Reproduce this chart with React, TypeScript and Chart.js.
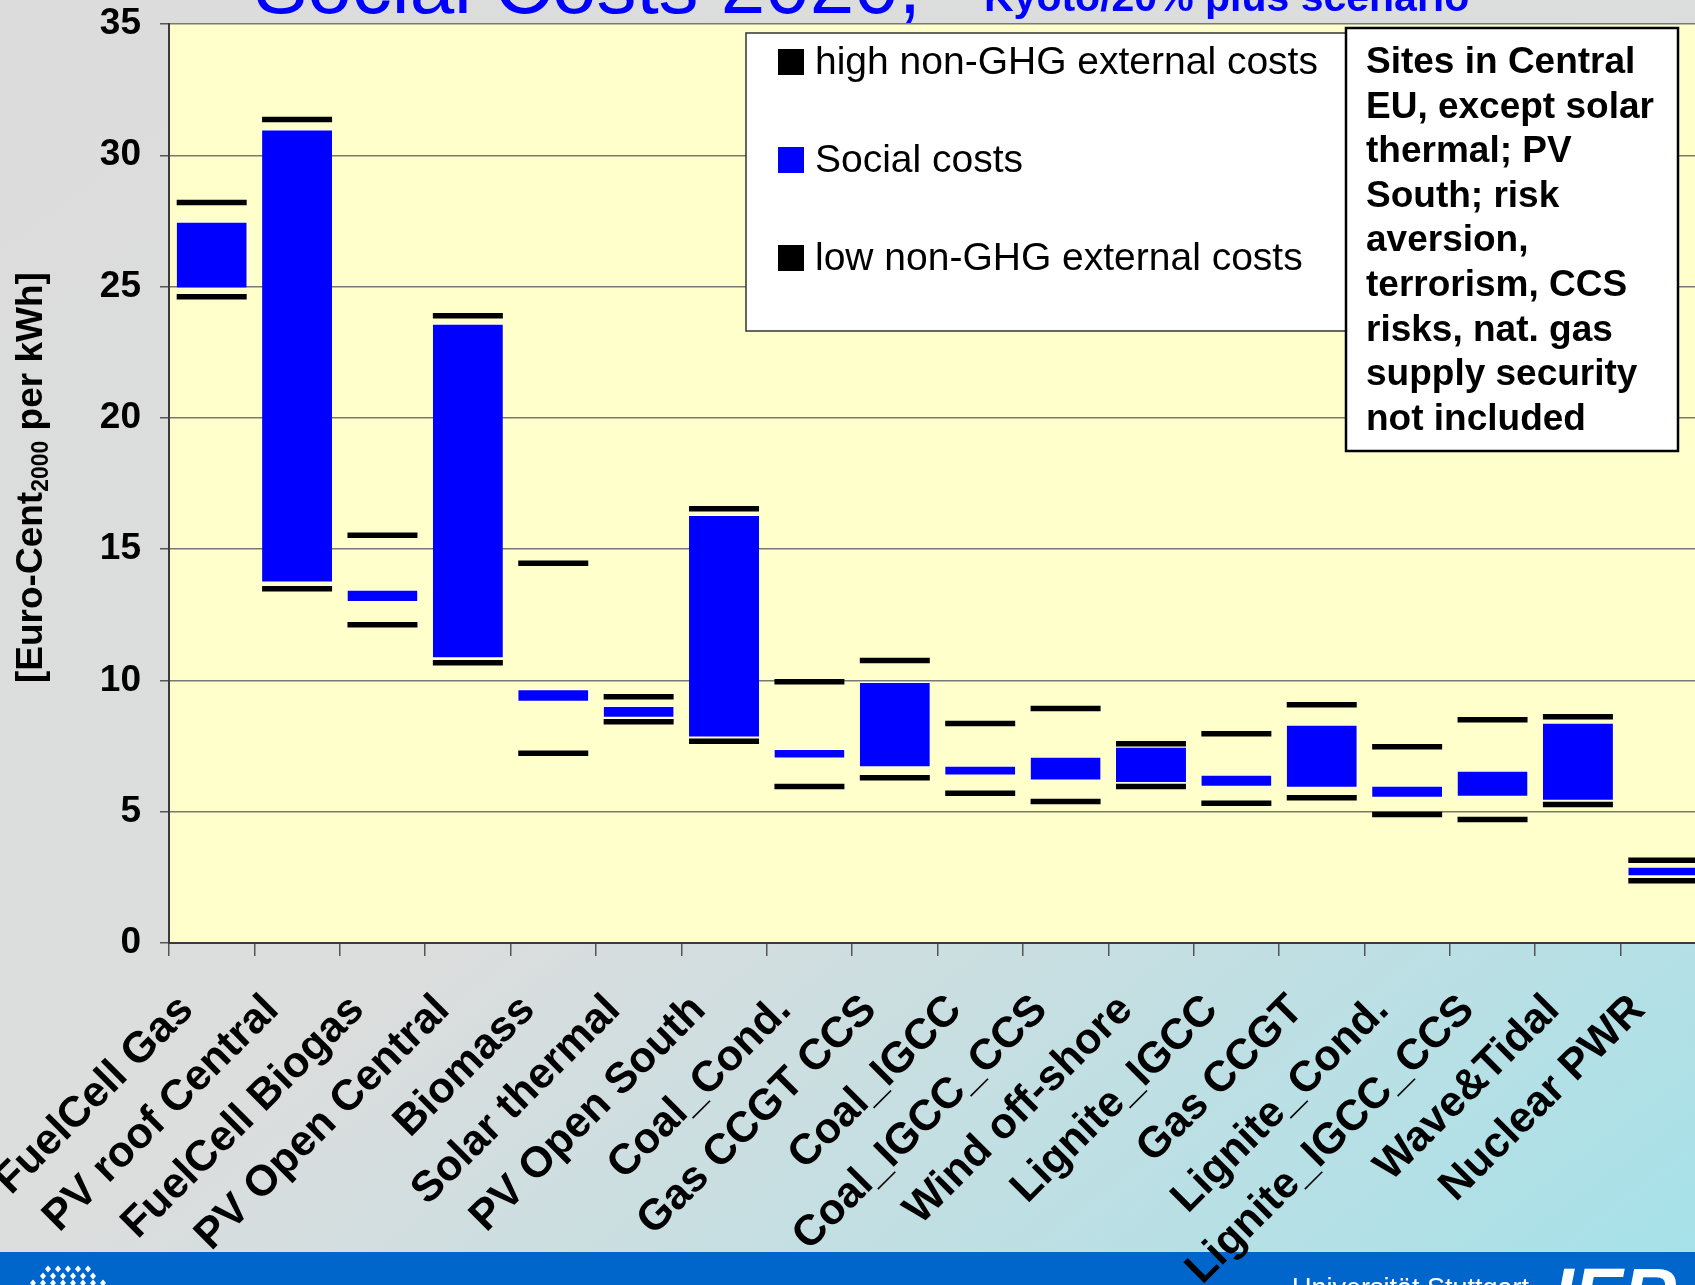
import React, { useEffect, useRef } from "react";
import { Chart, registerables } from "chart.js";

Chart.register(...registerables);

const FONT = '"Liberation Sans", Arial, Helvetica, sans-serif';

// ---------- data ----------
const categories = [
  "FuelCell Gas",
  "PV roof Central",
  "FuelCell Biogas",
  "PV Open Central",
  "Biomass",
  "Solar thermal",
  "PV Open South",
  "Coal_Cond.",
  "Gas CCGT CCS",
  "Coal_IGCC",
  "Coal_IGCC_CCS",
  "Wind off-shore",
  "Lignite_IGCC",
  "Gas CCGT",
  "Lignite_Cond.",
  "Lignite_IGCC_CCS",
  "Wave&Tidal",
  "Nuclear PWR",
];

const highExternal = [28.2, 31.36, 15.53, 23.89, 14.46, 9.38, 16.54, 9.95, 10.76, 8.36, 8.93, 7.59, 7.97, 9.07, 7.47, 8.5, 8.62, 3.15];
const socialHigh = [27.47, 30.98, 13.45, 23.58, 9.66, 9.03, 16.3, 7.39, 9.94, 6.75, 7.09, 7.47, 6.41, 8.31, 5.99, 6.56, 8.39, 2.9];
const socialLow = [24.93, 13.73, 12.99, 10.84, 9.19, 8.58, 7.83, 7.03, 6.69, 6.38, 6.19, 6.09, 5.95, 5.91, 5.53, 5.57, 5.42, 2.54];
const lowExternal = [24.61, 13.49, 12.12, 10.67, 7.23, 8.43, 7.68, 5.96, 6.29, 5.7, 5.39, 5.96, 5.32, 5.53, 4.89, 4.7, 5.27, 2.37];

const Y_MIN = 0;
const Y_MAX = 35;
const Y_STEP = 5;

const seriesLabels = ["high non-GHG external costs", "Social costs", "low non-GHG external costs"];
const titleMain = "Social Costs 2020,";
const titleSub = "Kyoto/20% plus scenario";
const yTitleParts = ["[Euro-Cent", "2000", " per kWh]"];
const noteLines = [
  "Sites in Central",
  "EU, except solar",
  "thermal; PV",
  "South; risk",
  "aversion,",
  "terrorism, CCS",
  "risks, nat. gas",
  "supply security",
  "not included",
];
const footerText = "Universität Stuttgart";
const footerLogo = "IER";

// ---------- styles ----------
const PAGE_W = 1695;
const PAGE_H = 1285;
const OX = 30; // canvas starts OX px left of the page
const CANVAS_W = 1760;
const BLUE = "#0000ff";
const BLACK = "#000000";
const PLOT_BG = "#ffffcc";

const decorPlugin = {
  id: "decor",
  beforeDraw(chart: any) {
    const { ctx, chartArea: a } = chart;
    ctx.save();
    ctx.save();
    ctx.translate(OX, 0);
    // slide background
    const s = (2 * PAGE_W * PAGE_H) / (PAGE_W * PAGE_W + PAGE_H * PAGE_H);
    const g = ctx.createLinearGradient(0, 0, s * PAGE_H, s * PAGE_W);
    g.addColorStop(0, "#dcdcdc");
    g.addColorStop(0.5, "#dcdddd");
    g.addColorStop(1, "#a5e1e9");
    ctx.fillStyle = g;
    ctx.fillRect(-OX, 0, CANVAS_W, PAGE_H);
    // footer
    ctx.fillStyle = "#0066cc";
    ctx.fillRect(-OX, 1252, CANVAS_W, PAGE_H - 1252);
    ctx.fillStyle = "#ffffff";
    ctx.textAlign = "left";
    ctx.textBaseline = "alphabetic";
    ctx.font = `27px ${FONT}`;
    ctx.fillText(footerText, 1292, 1297);
    ctx.font = `italic bold 74px ${FONT}`;
    ctx.fillText(footerLogo, 1553, 1320);
    const rows = [
      { y: 1269, x0: 48, n: 5 },
      { y: 1276, x0: 43, n: 6 },
      { y: 1283, x0: 33, n: 8 },
    ];
    rows.forEach((r) => {
      for (let i = 0; i < r.n; i++) {
        const cx = r.x0 + i * 10;
        ctx.beginPath();
        ctx.moveTo(cx, r.y - 3.5);
        ctx.lineTo(cx + 3, r.y);
        ctx.lineTo(cx, r.y + 3.5);
        ctx.lineTo(cx - 3, r.y);
        ctx.closePath();
        ctx.fill();
      }
    });
    // title (cut at top)
    ctx.fillStyle = BLUE;
    ctx.font = `80px ${FONT}`;
    ctx.fillText(titleMain, 254, 12.5);
    ctx.font = `bold 41px ${FONT}`;
    ctx.fillText(titleSub, 984, 11);
    ctx.restore();
    // plot area background
    ctx.fillStyle = PLOT_BG;
    ctx.fillRect(a.left, a.top, a.right - a.left, a.bottom - a.top);
    ctx.restore();
  },
  afterDraw(chart: any) {
    const { ctx } = chart;
    ctx.save();
    ctx.translate(OX, 0);
    ctx.textAlign = "left";
    ctx.textBaseline = "alphabetic";

    // y axis title with subscript
    ctx.save();
    ctx.translate(42, 683);
    ctx.rotate(-Math.PI / 2);
    ctx.fillStyle = BLACK;
    let x = 0;
    ctx.font = `bold 37px ${FONT}`;
    ctx.fillText(yTitleParts[0], x, 0);
    x += ctx.measureText(yTitleParts[0]).width;
    ctx.font = `bold 23px ${FONT}`;
    ctx.fillText(yTitleParts[1], x, 6);
    x += ctx.measureText(yTitleParts[1]).width;
    ctx.font = `bold 37px ${FONT}`;
    ctx.fillText(yTitleParts[2], x, 0);
    ctx.restore();

    // legend box
    ctx.fillStyle = "#ffffff";
    ctx.fillRect(746, 33, 600, 298);
    ctx.strokeStyle = "#333333";
    ctx.lineWidth = 1.5;
    ctx.strokeRect(746, 33, 600, 298);
    chart.data.datasets.forEach((ds: any, i: number) => {
      const top = 49 + i * 98;
      ctx.fillStyle = ds.type === "line" ? ds.pointBackgroundColor : ds.backgroundColor;
      ctx.fillRect(778, top, 26, 26);
      ctx.fillStyle = BLACK;
      ctx.font = `39px ${FONT}`;
      ctx.fillText(ds.label, 815, top + 25);
    });

    // note box
    ctx.fillStyle = "#ffffff";
    ctx.fillRect(1346, 28, 332, 423);
    ctx.strokeStyle = BLACK;
    ctx.lineWidth = 2.5;
    ctx.strokeRect(1346, 28, 332, 423);
    ctx.fillStyle = BLACK;
    ctx.font = `bold 37px ${FONT}`;
    noteLines.forEach((line, i) => {
      ctx.fillText(line, 1366, 73 + i * 44.6);
    });
    ctx.restore();
  },
};

export default function App() {
  const canvasRef = useRef<HTMLCanvasElement | null>(null);

  useEffect(() => {
    if (!canvasRef.current) return;
    const markerStyle = {
      type: "line" as const,
      showLine: false,
      pointStyle: "line",
      pointRadius: 35,
      pointHoverRadius: 35,
      pointBorderWidth: 5.5,
      pointHoverBorderWidth: 5.5,
      pointBorderColor: BLACK,
      pointBackgroundColor: BLACK,
      borderColor: BLACK,
      backgroundColor: BLACK,
      order: 0,
    };
    const chart = new Chart(canvasRef.current, {
      type: "bar",
      data: {
        labels: categories,
        datasets: [
          { ...markerStyle, label: seriesLabels[0], data: highExternal } as any,
          {
            type: "bar",
            label: seriesLabels[1],
            data: socialLow.map((lo, i) => [lo, socialHigh[i]]),
            backgroundColor: BLUE,
            borderColor: "#ffffff",
            borderWidth: { top: 1, bottom: 1, left: 0, right: 0 },
            borderSkipped: false,
            barPercentage: 1,
            categoryPercentage: 0.82,
            order: 1,
          } as any,
          { ...markerStyle, label: seriesLabels[2], data: lowExternal } as any,
        ],
      },
      options: {
        responsive: false,
        animation: false,
        devicePixelRatio: 1,
        events: [],
        layout: { autoPadding: false, padding: { left: 0, right: 24, top: 24, bottom: 0 } },
        plugins: {
          legend: { display: false },
          tooltip: { enabled: false },
          title: { display: false },
        },
        scales: {
          x: {
            offset: true,
            grid: {
              offset: true,
              drawOnChartArea: false,
              drawTicks: true,
              tickLength: 13,
              color: "#555555",
              lineWidth: 1.5,
            },
            border: { display: true, color: "#3a3a3a", width: 2 },
            ticks: {
              autoSkip: false,
              maxRotation: 45,
              minRotation: 45,
              padding: 29,
              labelOffset: -25,
              color: BLACK,
              font: { family: FONT, size: 43, weight: "bold" },
            },
            afterFit: (s: any) => {
              s.height = PAGE_H - 943;
            },
          },
          y: {
            min: Y_MIN,
            max: Y_MAX,
            ticks: {
              stepSize: Y_STEP,
              padding: 19,
              color: BLACK,
              font: { family: FONT, size: 37, weight: "bold", lineHeight: 0.1 },
            },
            grid: {
              color: "#787878",
              lineWidth: 1.5,
              tickLength: 9,
              tickColor: "#555555",
            },
            border: { display: true, color: "#3a3a3a", width: 2 },
            afterFit: (s: any) => {
              s.width = 169 + OX;
            },
          },
        },
      } as any,
      plugins: [decorPlugin],
    });
    return () => chart.destroy();
  }, []);

  return (
    <div
      style={{
        position: "fixed",
        left: 0,
        top: 0,
        width: PAGE_W,
        height: PAGE_H,
        overflow: "hidden",
      }}
    >
      <canvas
        ref={canvasRef}
        width={CANVAS_W}
        height={PAGE_H}
        style={{ display: "block", position: "absolute", left: -OX, top: 0, width: CANVAS_W, height: PAGE_H }}
      />
    </div>
  );
}
